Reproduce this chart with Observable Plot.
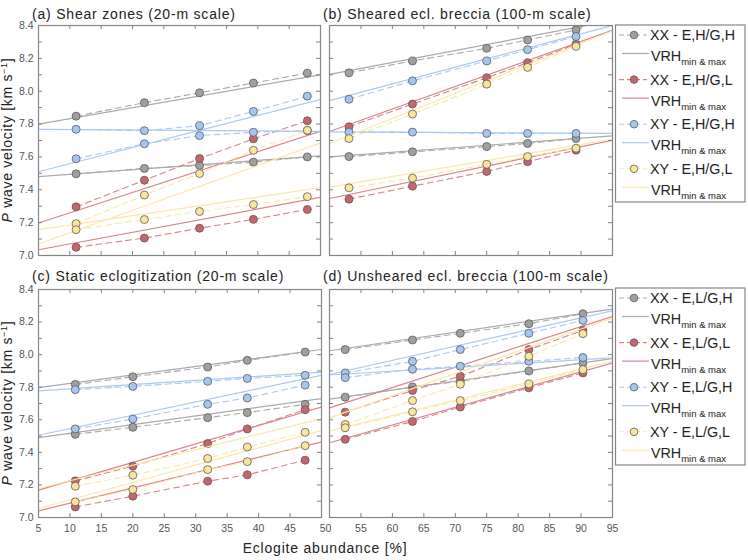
<!DOCTYPE html>
<html><head><meta charset="utf-8">
<script src="https://cdn.jsdelivr.net/npm/d3@7"></script>
<script src="https://cdn.jsdelivr.net/npm/@observablehq/plot@0.6"></script>
<style>
body{margin:0;background:#fff;}
#wrap{position:relative;width:748px;height:560px;font-family:"Liberation Sans",Arial,sans-serif;}
#wrap svg{position:absolute;overflow:visible;}
</style></head><body><div id="wrap"></div>
<script>
// ---------- categories / labels ----------
const groupKeys = ["XXH", "XXL", "XYH", "XYL"];
const fillColors = ["#a0a0a0", "#c8646c", "#a3c6f2", "#fbe59d"];
const lineColors = ["#aaaaaa", "#d8848b", "#a9c9f1", "#fce7a6"];
const legendTop = ["XX - E,H/G,H", "XX - E,H/G,L", "XY - E,H/G,H", "XY - E,H/G,L"];
const legendBottom = ["XX - E,L/G,H", "XX - E,L/G,L", "XY - E,L/G,H", "XY - E,L/G,L"];
const titles = ["(a) Shear zones (20-m scale)", "(b) Sheared ecl. breccia (100-m scale)",
                "(c) Static eclogitization (20-m scale)", "(d) Unsheared ecl. breccia (100-m scale)"];
const yLabelVals = [7.0, 7.2, 7.4, 7.6, 7.8, 8.0, 8.2, 8.4];
const yTickVals = [7.1, 7.2, 7.3, 7.4, 7.5, 7.6, 7.7, 7.8, 7.9, 8.0, 8.1, 8.2, 8.3];
const xTickLeft = [10, 15, 20, 25, 30, 35, 40, 45];
const xTickRight = [55, 60, 65, 70, 75, 80, 85, 90];
const xLabelLeft = [5, 10, 15, 20, 25, 30, 35, 40, 45];
const xLabelRight = [55, 60, 65, 70, 75, 80, 85, 90, 95];

// ---------- panel (a) ----------
const aX = [11.0, 21.9, 30.7, 39.3, 47.9];
const aXXH_max = [7.848, 7.93, 7.99, 8.05, 8.11];
const aXXH_min = [7.497, 7.53, 7.548, 7.568, 7.60];
const aXXL_max = [7.296, 7.458, 7.59, 7.71, 7.82];
const aXXL_min = [7.05, 7.106, 7.166, 7.22, 7.28];
const aXYH_max = [7.768, 7.76, 7.79, 7.877, 7.97];
const aXYH_min = [7.589, 7.68, 7.73, 7.75, 7.76];
const aXYL_max = [7.194, 7.368, 7.499, 7.64, 7.762];
const aXYL_min = [7.157, 7.219, 7.268, 7.31, 7.358];
const aVrhX = [5, 50];
const aXXH_vrh = [[7.80, 8.10], [7.48, 7.607]];
const aXXL_vrh = [[7.198, 7.756], [7.035, 7.354]];
const aXYH_vrh = [[7.768, 7.756], [7.51, 7.95]];
const aXYL_vrh = [[7.157, 7.413], [7.07, 7.685]];

// ---------- panel (b) ----------
const bX = [53.1, 63.2, 75.0, 81.5, 89.2];
const bXXH_max = [8.112, 8.184, 8.261, 8.312, 8.373];
const bXXH_min = [7.602, 7.631, 7.663, 7.682, 7.712];
const bXXL_max = [7.784, 7.922, 8.082, 8.173, 8.286];
const bXXL_min = [7.343, 7.422, 7.512, 7.571, 7.641];
const bXYH_max = [7.951, 8.063, 8.184, 8.253, 8.333];
const bXYH_min = [7.751, 7.751, 7.743, 7.743, 7.743];
const bXYL_max = [7.712, 7.861, 8.043, 8.145, 8.273];
const bXYL_min = [7.412, 7.471, 7.555, 7.602, 7.653];
const bVrhX = [50, 95];
const bXXH_vrh = [[8.102, 8.43], [7.60, 7.728]];
const bXXL_vrh = [[7.755, 8.371], [7.347, 7.702]];
const bXYH_vrh = [[7.943, 8.40], [7.753, 7.743]];
const bXYL_vrh = [[7.682, 8.367], [7.416, 7.708]];

// ---------- panel (c) ----------
const cX = [10.85, 20.0, 31.9, 38.2, 47.4];
const cXXH_max = [7.817, 7.864, 7.924, 7.965, 8.016];
const cXXH_min = [7.511, 7.554, 7.613, 7.644, 7.695];
const cXXL_max = [7.225, 7.315, 7.454, 7.544, 7.662];
const cXXL_min = [7.065, 7.131, 7.223, 7.262, 7.352];
const cXYH_max = [7.785, 7.805, 7.836, 7.854, 7.873];
const cXYH_min = [7.544, 7.605, 7.695, 7.734, 7.813];
const cXYL_max = [7.192, 7.26, 7.362, 7.433, 7.523];
const cXYL_min = [7.096, 7.172, 7.294, 7.343, 7.441];
const cVrhX = [5, 50];
const cXXH_vrh = [[7.797, 8.032], [7.49, 7.73]];
const cXXL_vrh = [[7.168, 7.679], [7.041, 7.464]];
const cXYH_vrh = [[7.777, 7.893], [7.505, 7.873]];
const cXYL_vrh = [[7.178, 7.607], [7.055, 7.535]];

// ---------- panel (d) ----------
const dX = [52.5, 63.2, 70.8, 81.7, 90.3];
const dXXH_max = [8.031, 8.09, 8.131, 8.19, 8.251];
const dXXH_min = [7.739, 7.802, 7.837, 7.90, 7.949];
const dXXL_max = [7.647, 7.78, 7.867, 8.031, 8.149];
const dXXL_min = [7.48, 7.59, 7.678, 7.796, 7.888];
const dXYH_max = [7.888, 7.959, 8.031, 8.131, 8.21];
const dXYH_min = [7.859, 7.91, 7.929, 7.959, 7.982];
const dXYL_max = [7.571, 7.718, 7.818, 7.99, 8.129];
const dXYL_min = [7.551, 7.649, 7.718, 7.82, 7.908];
const dVrhX = [50, 95];
const dXXH_vrh = [[8.024, 8.28], [7.727, 7.976]];
const dXXL_vrh = [[7.673, 8.235], [7.459, 7.949]];
const dXYH_vrh = [[7.878, 8.269], [7.875, 7.98]];
const dXYL_vrh = [[7.612, 8.225], [7.531, 7.959]];

const panels = [
  {x: aX, vrhX: aVrhX, max: [aXXH_max, aXXL_max, aXYH_max, aXYL_max], min: [aXXH_min, aXXL_min, aXYH_min, aXYL_min],
   vrh: [aXXH_vrh, aXXL_vrh, aXYH_vrh, aXYL_vrh], domain: [5, 50], xt: xTickLeft, xl: null, yAxis: true,
   left: 0, top: 0, width: 325, height: 262, mL: 38, mR: 5, mT: 25, mB: 7},
  {x: bX, vrhX: bVrhX, max: [bXXH_max, bXXL_max, bXYH_max, bXYL_max], min: [bXXH_min, bXXL_min, bXYH_min, bXYL_min],
   vrh: [bXXH_vrh, bXXL_vrh, bXYH_vrh, bXYL_vrh], domain: [50, 95], xt: xTickRight, xl: null, yAxis: false,
   left: 320, top: 0, width: 296, height: 262, mL: 9, mR: 4, mT: 25, mB: 7},
  {x: cX, vrhX: cVrhX, max: [cXXH_max, cXXL_max, cXYH_max, cXYL_max], min: [cXXH_min, cXXL_min, cXYH_min, cXYL_min],
   vrh: [cXXH_vrh, cXXL_vrh, cXYH_vrh, cXYL_vrh], domain: [5, 50], xt: xTickLeft, xl: xLabelLeft, yAxis: true,
   left: 0, top: 262, width: 325, height: 278, mL: 38, mR: 4, mT: 27, mB: 23},
  {x: dX, vrhX: dVrhX, max: [dXXH_max, dXXL_max, dXYH_max, dXYL_max], min: [dXXH_min, dXXL_min, dXYH_min, dXYL_min],
   vrh: [dXXH_vrh, dXXL_vrh, dXYH_vrh, dXYL_vrh], domain: [50, 95], xt: xTickRight, xl: xLabelRight, yAxis: false, fifty: true,
   left: 320, top: 262, width: 296, height: 278, mL: 9, mR: 4, mT: 27, mB: 23}
];

const wrap = document.getElementById("wrap");
const FONT = "'Liberation Sans', Arial, sans-serif";
const tickColor = "#808080";

panels.forEach(p => {
  const plotW = p.width - p.mL - p.mR, plotH = p.height - p.mT - p.mB;
  const marks = [];
  groupKeys.forEach((g, gi) => {
    const pts = [];
    ["max", "min"].forEach(s => p.x.forEach((xv, i) => pts.push({s, x: xv, y: p[s][gi][i]})));
    const vrh = [];
    p.vrh[gi].forEach((vals, li) => p.vrhX.forEach((xv, j) => vrh.push({s: "l" + li, x: xv, y: vals[j]})));
    marks.push(Plot.line(pts, {x: "x", y: "y", z: "s", stroke: lineColors[gi], strokeWidth: 1.1, strokeDasharray: "6,4"}));
    marks.push(Plot.line(vrh, {x: "x", y: "y", z: "s", stroke: lineColors[gi], strokeWidth: 1.2, clip: true}));
    marks.push(Plot.dot(pts, {x: "x", y: "y", r: 4, fill: fillColors[gi], stroke: "#5a5a5a", strokeWidth: 0.8}));
  });
  // inward ticks on all four sides
  marks.push(Plot.tickY(yTickVals, {y: d => d, stroke: tickColor, insetRight: plotW - 4}));
  marks.push(Plot.tickY(yTickVals, {y: d => d, stroke: tickColor, insetLeft: plotW - 4}));
  marks.push(Plot.tickX(p.xt, {x: d => d, stroke: tickColor, insetTop: plotH - 4}));
  marks.push(Plot.tickX(p.xt, {x: d => d, stroke: tickColor, insetBottom: plotH - 4}));
  marks.push(Plot.frame({stroke: "#858585", strokeWidth: 1.2}));
  if (p.yAxis) marks.push(Plot.axisY(yLabelVals, {anchor: "left", tickSize: 0, tickPadding: 5, tickFormat: d => d.toFixed(1), fontSize: 10.5, fill: "#555", label: null}));
  if (p.xl) marks.push(Plot.axisX(p.xl, {anchor: "bottom", tickSize: 0, tickPadding: 7, fontSize: 10.5, fill: "#555", label: null}));
  if (p.fifty) marks.push(Plot.axisX([50], {anchor: "bottom", tickSize: 0, tickPadding: 7, dx: -4, fontSize: 10.5, fill: "#555", label: null}));
  const chart = Plot.plot({
    width: p.width, height: p.height,
    marginLeft: p.mL, marginRight: p.mR, marginTop: p.mT, marginBottom: p.mB,
    x: Object.assign({domain: p.domain}, p.xl ? {} : {axis: null}),
    y: Object.assign({domain: [7, 8.4]}, p.yAxis ? {} : {axis: null}),
    style: {fontFamily: FONT, background: "transparent", overflow: "visible"},
    marks
  });
  chart.style.left = p.left + "px";
  chart.style.top = p.top + "px";
  wrap.appendChild(chart);
});

// ---------- overlay: titles, axis labels, legends ----------
const svg = d3.create("svg").attr("width", 748).attr("height", 560)
  .style("left", "0px").style("top", "0px").style("font-family", FONT);
const titlePos = [[32, 19], [323, 19], [32, 281], [323, 281]];
titles.forEach((t, i) => svg.append("text").attr("x", titlePos[i][0]).attr("y", titlePos[i][1])
  .attr("font-size", 14).attr("letter-spacing", 0.8).attr("fill", "#222").text(t));

[140, 403].forEach(cy => {
  const t = svg.append("text").attr("transform", `translate(12,${cy}) rotate(-90)`)
    .attr("text-anchor", "middle").attr("font-size", 14).attr("letter-spacing", 0.7).attr("fill", "#222");
  t.append("tspan").attr("font-style", "italic").text("P");
  t.append("tspan").text(" wave velocity [km s");
  t.append("tspan").attr("font-size", 9).attr("dy", -5).text("−1");
  t.append("tspan").attr("dy", 5).text("]");
});
svg.append("text").attr("x", 325).attr("y", 553).attr("text-anchor", "middle")
  .attr("font-size", 14).attr("letter-spacing", 0.8).attr("fill", "#222").text("Eclogite abundance [%]");

function legend(y0, labels) {
  const g = svg.append("g");
  g.append("rect").attr("x", 615.5).attr("y", y0).attr("width", 129.5).attr("height", 177)
    .attr("fill", "#fff").attr("stroke", "#858585").attr("stroke-width", 1.2);
  labels.forEach((lab, i) => {
    const ly = y0 + 10 + 44.6 * i;
    g.append("line").attr("x1", 619).attr("x2", 647).attr("y1", ly).attr("y2", ly)
      .attr("stroke", lineColors[i]).attr("stroke-width", 1.1).attr("stroke-dasharray", "5,3");
    g.append("circle").attr("cx", 634).attr("cy", ly).attr("r", 3.8)
      .attr("fill", fillColors[i]).attr("stroke", "#5a5a5a").attr("stroke-width", 0.8);
    g.append("text").attr("x", 650).attr("y", ly + 5).attr("font-size", 14.3).attr("fill", "#222").text(lab);
    const vy = ly + 18.5;
    g.append("line").attr("x1", 622).attr("x2", 649).attr("y1", vy).attr("y2", vy)
      .attr("stroke", lineColors[i]).attr("stroke-width", 1.2);
    const t = g.append("text").attr("x", 651).attr("y", vy + 7.5).attr("font-size", 14.3).attr("fill", "#222");
    t.append("tspan").text("VRH");
    t.append("tspan").attr("font-size", 9.5).attr("dy", 4).text("min & max");
  });
}
legend(25, legendTop);
legend(288, legendBottom);
wrap.appendChild(svg.node());
</script>
</body></html>
